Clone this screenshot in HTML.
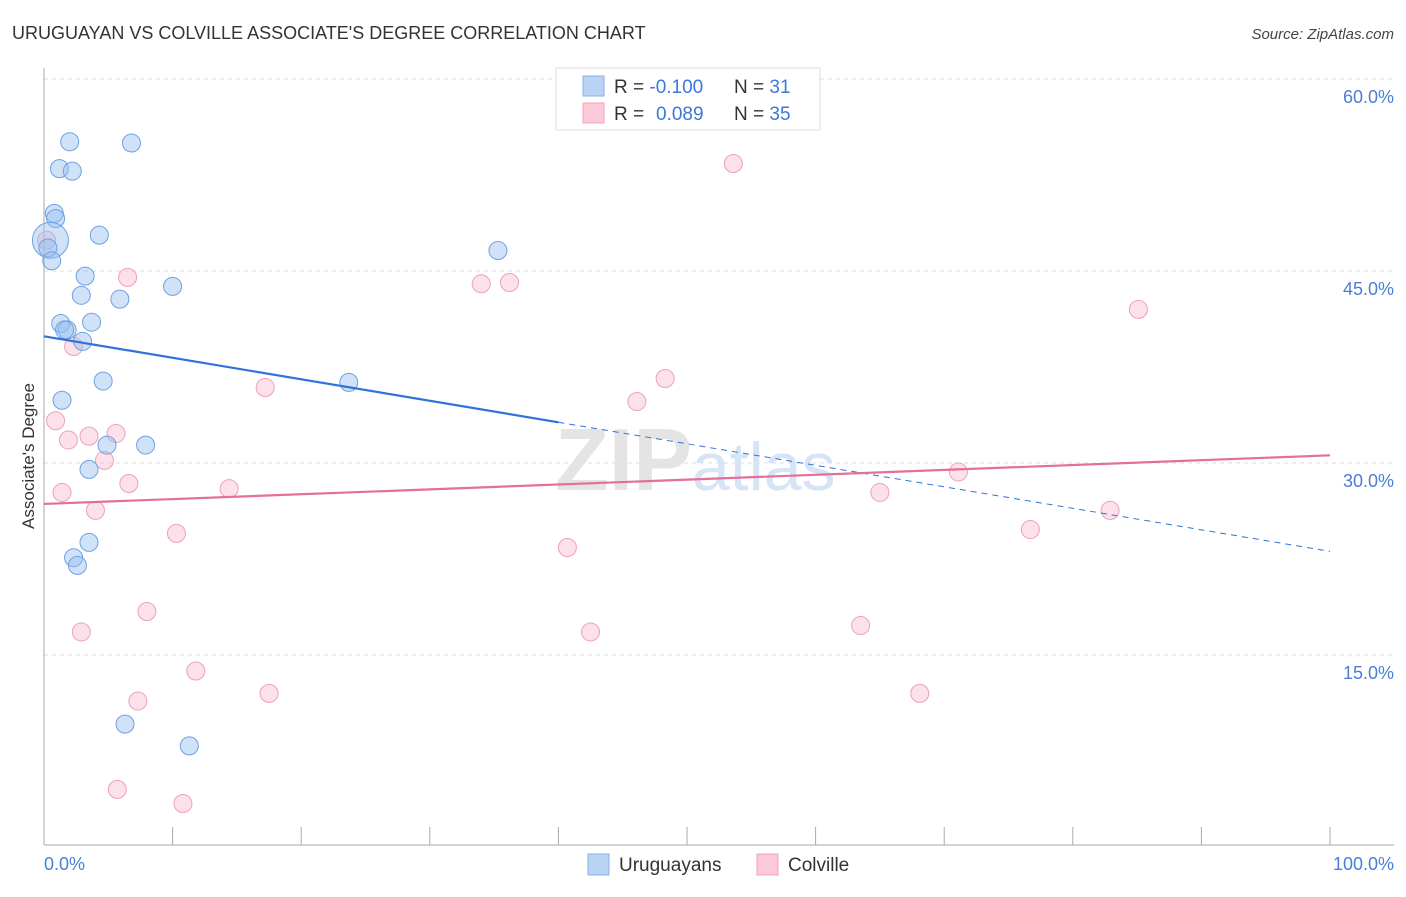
<!DOCTYPE html>
<html><head><meta charset="utf-8"><style>
body{margin:0;background:#fff;font-family:"Liberation Sans",sans-serif;}
svg text{font-family:"Liberation Sans",sans-serif;}
</style></head><body>
<svg id="chart" width="1406" height="892" xmlns="http://www.w3.org/2000/svg">
<text x="12" y="39" font-size="18" fill="#333">URUGUAYAN VS COLVILLE ASSOCIATE'S DEGREE CORRELATION CHART</text>
<text x="1394" y="39" font-size="15" fill="#444" text-anchor="end" font-style="italic">Source: ZipAtlas.com</text>
<g id="grid"></g>
<text x="555" y="490" font-size="88" fill="#e4e4e4" font-family="Liberation Serif" font-weight="bold">ZIP<tspan fill="#d6e4f5" font-family="Liberation Sans" font-weight="normal" font-size="68">atlas</tspan></text>
<line x1="44" y1="68" x2="44" y2="845" stroke="#aaa" stroke-width="1"/>
<line x1="44" y1="845" x2="1394" y2="845" stroke="#aaa" stroke-width="1"/>
<g id="ticks"></g>
<g id="pts"></g>
<g id="trends"></g>
<text transform="translate(34,456) rotate(-90)" font-size="17" fill="#333" text-anchor="middle">Associate's Degree</text>
<text x="44" y="870" font-size="18" fill="#4a7fd4">0.0%</text>
<text x="1394" y="870" font-size="18" fill="#4a7fd4" text-anchor="end">100.0%</text>
<g>
<rect x="556" y="68" width="264" height="62" fill="#fff" stroke="#ddd"/>
<rect x="583" y="76" width="21" height="20" fill="#b9d3f5" stroke="#8ab2e8"/>
<rect x="583" y="103" width="21" height="20" fill="#fbc9d8" stroke="#f0a3bb"/>
<text x="614" y="93" font-size="19" fill="#333">R = <tspan fill="#3b78d8">-0.100</tspan><tspan x="734">N = </tspan><tspan fill="#3b78d8">31</tspan></text>
<text x="614" y="120" font-size="19" fill="#333">R = <tspan fill="#3b78d8" x="656">0.089</tspan><tspan x="734">N = </tspan><tspan fill="#3b78d8">35</tspan></text>
</g>
<g>
<rect x="588" y="854" width="21" height="21" fill="#b9d3f5" stroke="#8ab2e8"/>
<text x="619" y="871" font-size="19" fill="#333">Uruguayans</text>
<rect x="757" y="854" width="21" height="21" fill="#fbc9d8" stroke="#f0a3bb"/>
<text x="788" y="871" font-size="19" fill="#333">Colville</text>
</g>
</svg>
<script>
const yTicks=[15,30,45,60];
const yTickLabels=["15.0%","30.0%","45.0%","60.0%"];
const xTickValues=[10,20,30,40,50,60,70,80,90,100];
const blueX=[2.0,6.8,1.2,2.2,0.8,0.9,4.3,0.5,0.3,0.6,3.2,10.0,2.9,5.9,1.3,1.8,3.7,3.0,4.6,23.7,35.3,1.4,7.9,4.9,3.5,3.5,2.3,2.6,6.3,11.3,1.6];
const blueY=[55.1,55.0,53.0,52.8,49.5,49.1,47.8,47.4,46.8,45.8,44.6,43.8,43.1,42.8,40.9,40.4,41.0,39.5,36.4,36.3,46.6,34.9,31.4,31.4,29.5,23.8,22.6,22.0,9.6,7.9,40.4];
const blueR=[9,9,9,9,9,9,9,18,9,9,9,9,9,9,9,9,9,9,9,9,9,9,9,9,9,9,9,9,9,9,9];
const pinkX=[53.6,6.5,34.0,36.2,85.1,2.3,17.2,48.3,46.1,0.9,1.9,3.5,5.6,4.7,1.4,6.6,14.4,4.0,65.0,71.1,82.9,76.7,10.3,40.7,8.0,2.9,42.5,63.5,11.8,17.5,68.1,7.3,5.7,10.8,0.2];
const pinkY=[53.4,44.5,44.0,44.1,42.0,39.1,35.9,36.6,34.8,33.3,31.8,32.1,32.3,30.2,27.7,28.4,28.0,26.3,27.7,29.3,26.3,24.8,24.5,23.4,18.4,16.8,16.8,17.3,13.75,12.0,12.0,11.4,4.5,3.4,47.4];
const blueTrend=[39.9,23.1];
const pinkTrend=[26.8,30.6];
const blueSolidEnd=40;
const NS="http://www.w3.org/2000/svg";
const xs=v=>44+v*12.86;
const ys=v=>847-v*12.8;
function mk(t,a,p){const e=document.createElementNS(NS,t);for(const k in a)e.setAttribute(k,a[k]);p.appendChild(e);return e;}
const grid=document.getElementById('grid');
yTicks.forEach((t,i)=>{
 const l=mk('line',{x1:44,x2:1394,y1:ys(t),y2:ys(t),stroke:'#ddd','stroke-dasharray':'4,4'},grid);
 
 
 const tx=mk('text',{x:1394,y:ys(t)+24,'font-size':18,fill:'#4a7fd4','text-anchor':'end'},grid);
 tx.textContent=yTickLabels[i];
 
 
});
const tk=document.getElementById('ticks');
xTickValues.forEach(v=>{
 const l=mk('line',{x1:xs(v),x2:xs(v),y1:827,y2:845,stroke:'#aaa'},tk);
 
 
});
const pts=document.getElementById('pts');
pinkX.forEach((x,i)=>{
 const c=mk('circle',{cx:xs(x),cy:ys(pinkY[i]),r:9,fill:'rgba(245,170,195,0.35)',stroke:'#eea0b8','stroke-width':1},pts);
 
 
});
blueX.forEach((x,i)=>{
 const c=mk('circle',{cx:xs(x),cy:ys(blueY[i]),r:blueR[i],fill:'rgba(150,190,240,0.45)',stroke:'#6fa0e2','stroke-width':1},pts);
 
 
});
const tr=document.getElementById('trends');
const by=x=>blueTrend[0]+(blueTrend[1]-blueTrend[0])*x/100;
let a=mk('line',{x1:xs(0),y1:ys(by(0)),x2:xs(blueSolidEnd),y2:ys(by(blueSolidEnd)),stroke:'#2f72d9','stroke-width':2.2},tr);


a=mk('line',{x1:xs(blueSolidEnd),y1:ys(by(blueSolidEnd)),x2:xs(100),y2:ys(by(100)),stroke:'#2f72d9','stroke-width':1,'stroke-dasharray':'6,5'},tr);


a=mk('line',{x1:xs(0),y1:ys(pinkTrend[0]),x2:xs(100),y2:ys(pinkTrend[1]),stroke:'#e46f97','stroke-width':2.2},tr);


</script>
</body></html>
